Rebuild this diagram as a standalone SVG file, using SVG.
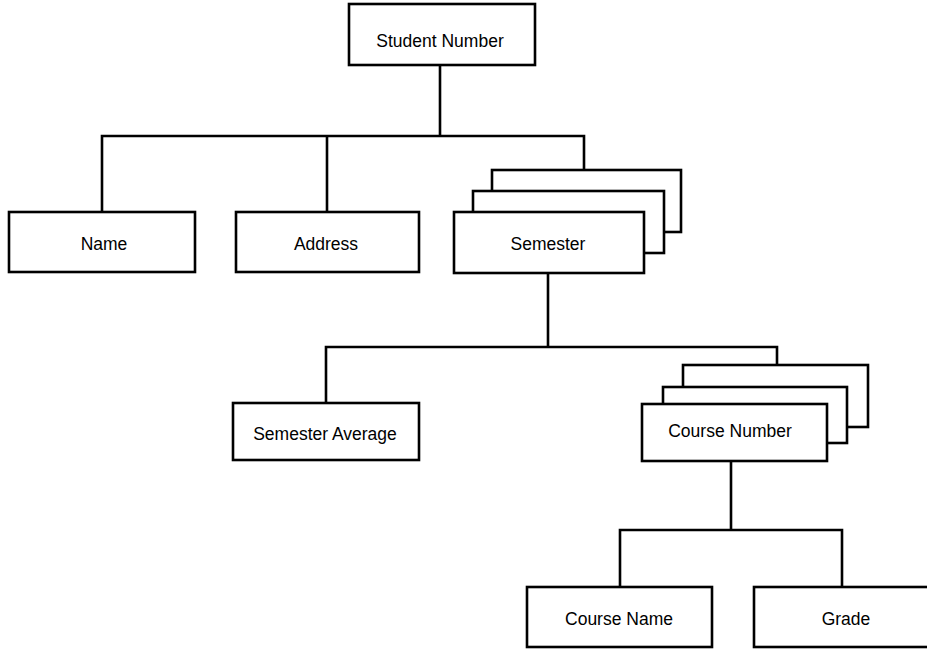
<svg xmlns="http://www.w3.org/2000/svg" width="927" height="649" viewBox="0 0 927 649">
  <style>
    .box { fill: #ffffff; stroke: #000000; stroke-width: 2.6; }
    .wire { fill: none; stroke: #000000; stroke-width: 2.6; stroke-linecap: square; }
    .label { font-family: "Liberation Sans", Arial, Helvetica, sans-serif; font-size: 17.5px; fill: #000000; text-anchor: middle; }
  </style>
  <rect width="927" height="649" fill="#ffffff"/>

  <!-- hierarchy lines -->
  <g id="connectors">
    <path class="wire" d="M440,65 V136 M102,136 H584 M102,136 V212 M327,136 V212 M584,136 V170"/>
    <path class="wire" d="M548,273 V347 M326,347 H777 M326,347 V403 M777,347 V365"/>
    <path class="wire" d="M731,461 V530 M620,530 H842 M620,530 V587 M842,530 V587"/>
  </g>

  <g id="student-number">
    <rect class="box" x="349" y="4" width="186" height="61"/>
    <text class="label" x="440" y="47">Student Number</text>
  </g>

  <g id="name">
    <rect class="box" x="9" y="212" width="186" height="60"/>
    <text class="label" x="104" y="250">Name</text>
  </g>

  <g id="address">
    <rect class="box" x="236" y="212" width="183" height="60"/>
    <text class="label" x="326" y="250">Address</text>
  </g>

  <!-- repeating group: stacked records -->
  <g id="semester">
    <rect class="box" x="492" y="170" width="189" height="62"/>
    <rect class="box" x="473" y="191" width="191" height="62"/>
    <rect class="box" x="454" y="212" width="190" height="61"/>
    <text class="label" x="548" y="250">Semester</text>
  </g>

  <g id="semester-average">
    <rect class="box" x="233" y="403" width="186" height="57"/>
    <text class="label" x="325" y="440">Semester Average</text>
  </g>

  <g id="course-number">
    <rect class="box" x="683" y="365" width="185" height="62"/>
    <rect class="box" x="663" y="387" width="184" height="56"/>
    <rect class="box" x="642" y="404" width="185" height="57"/>
    <text class="label" x="730" y="437">Course Number</text>
  </g>

  <g id="course-name">
    <rect class="box" x="527" y="587" width="185" height="60"/>
    <text class="label" x="619" y="625">Course Name</text>
  </g>

  <g id="grade">
    <rect class="box" x="754" y="587" width="185" height="60"/>
    <text class="label" x="846" y="625">Grade</text>
  </g>
</svg>
